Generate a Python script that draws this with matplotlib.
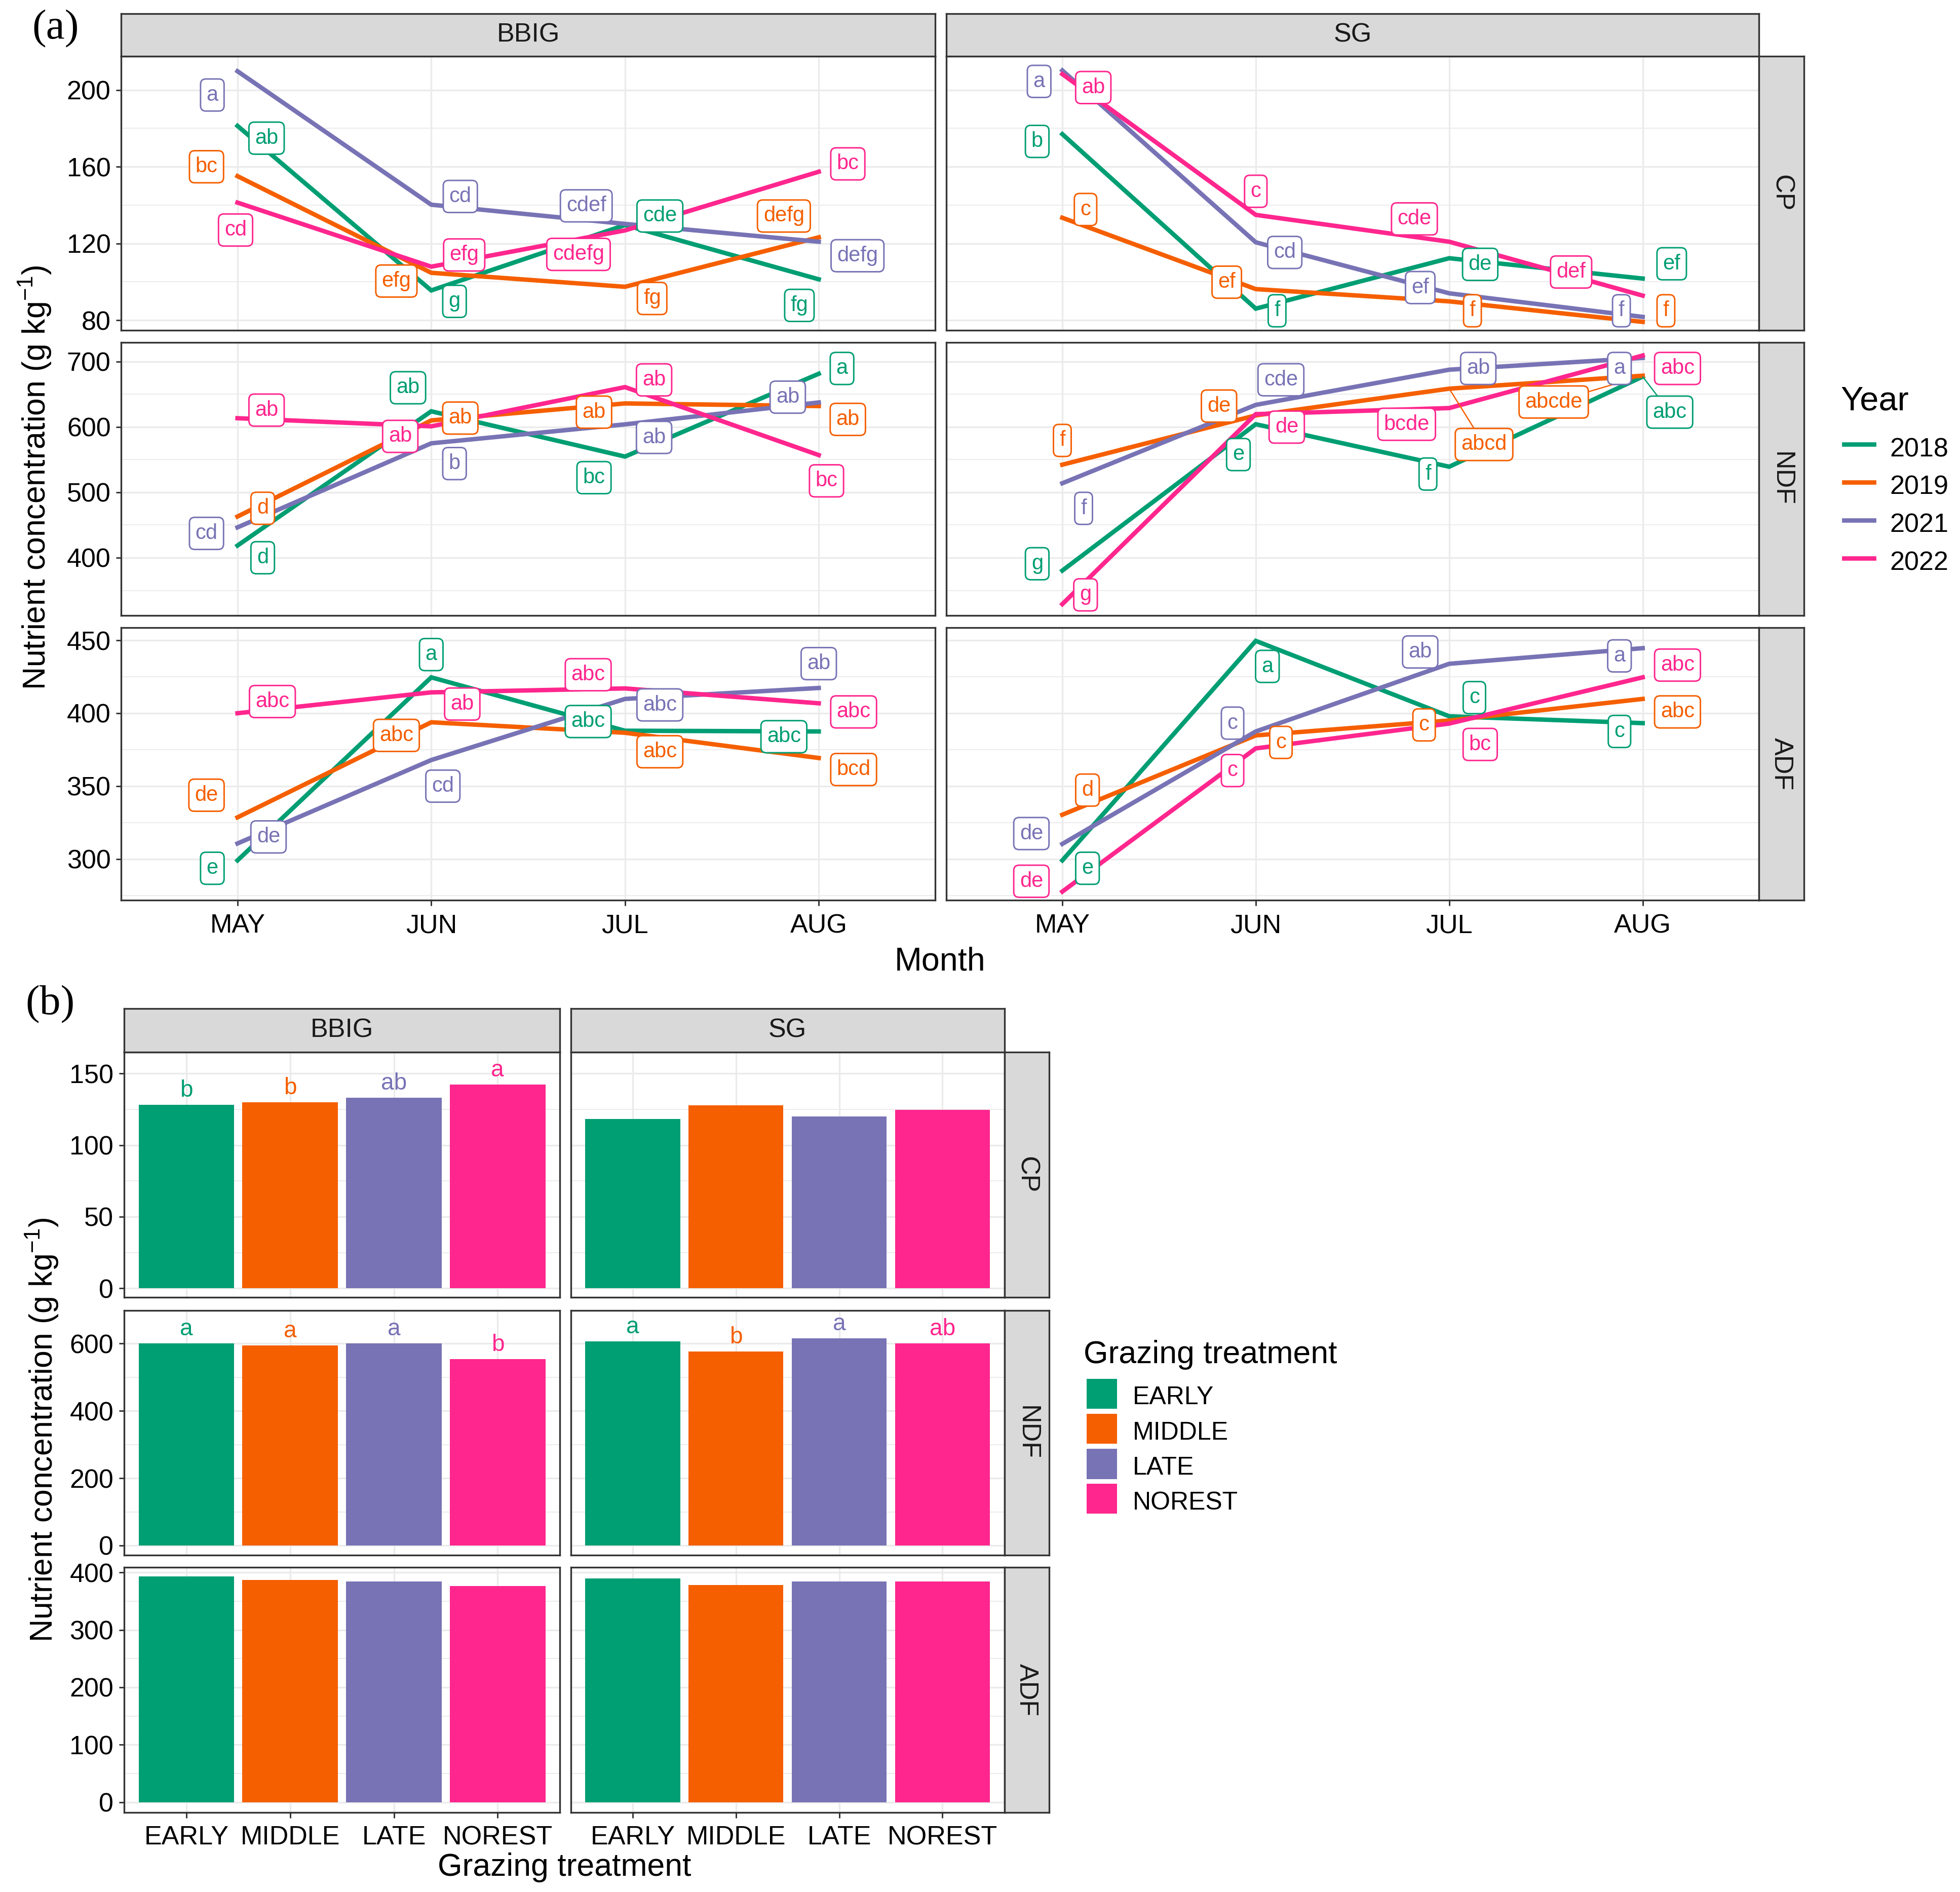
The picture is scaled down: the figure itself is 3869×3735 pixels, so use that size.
import matplotlib
matplotlib.use('Agg')
import matplotlib.pyplot as plt
from matplotlib.lines import Line2D
from matplotlib.patches import Rectangle
from matplotlib.ticker import MultipleLocator

plt.rcParams['font.family'] = ['Liberation Sans', 'DejaVu Sans']
plt.rcParams['mathtext.fontset'] = 'custom'
plt.rcParams['mathtext.rm'] = 'Liberation Sans'
plt.rcParams['mathtext.default'] = 'rm'

# ---------------- data ----------------
months = ['MAY', 'JUN', 'JUL', 'AUG']
years = ['2018', '2019', '2021', '2022']
sites = ['BBIG', 'SG']
nutrients = ['CP', 'NDF', 'ADF']
treatments = ['EARLY', 'MIDDLE', 'LATE', 'NOREST']

# (a) monthly means, rows = years (2018, 2019, 2021, 2022), cols = months
cp_bbig = [[181.3, 95.5, 129.6, 101.3],
           [155.1, 104.7, 97.4, 123.2],
           [209.8, 140.2, 130.2, 120.9],
           [141.3, 107.9, 126.8, 157.4]]
cp_sg = [[177.0, 86.0, 112.3, 101.7],
         [133.4, 96.2, 89.8, 79.1],
         [210.2, 120.6, 94.0, 81.7],
         [208.3, 134.9, 120.9, 92.8]]
ndf_bbig = [[418.6, 624.0, 554.7, 681.4],
            [463.0, 610.0, 636.0, 632.0],
            [446.4, 575.0, 604.0, 637.5],
            [613.4, 601.0, 661.0, 557.0]]
ndf_sg = [[380.3, 604.2, 539.2, 677.0],
          [542.3, 617.7, 658.6, 678.4],
          [513.9, 633.8, 687.6, 705.6],
          [329.0, 619.6, 628.9, 709.3]]
adf_bbig = [[299.1, 424.6, 388.0, 387.5],
            [328.6, 393.8, 386.6, 369.3],
            [310.7, 367.9, 409.8, 417.3],
            [400.0, 414.3, 417.0, 406.8]]
adf_sg = [[299.1, 449.6, 397.9, 393.2],
          [330.4, 384.8, 395.0, 409.8],
          [310.4, 387.5, 433.9, 444.6],
          [277.7, 375.9, 392.9, 424.6]]

cp_bbig_letters = [['ab', 'g', 'cde', 'fg'], ['bc', 'efg', 'fg', 'defg'],
                   ['a', 'cd', 'cdef', 'defg'], ['cd', 'efg', 'cdefg', 'bc']]
cp_sg_letters = [['b', 'f', 'de', 'ef'], ['c', 'ef', 'f', 'f'],
                 ['a', 'cd', 'ef', 'f'], ['ab', 'c', 'cde', 'def']]
ndf_bbig_letters = [['d', 'ab', 'bc', 'a'], ['d', 'ab', 'ab', 'ab'],
                    ['cd', 'b', 'ab', 'ab'], ['ab', 'ab', 'ab', 'bc']]
ndf_sg_letters = [['g', 'e', 'f', 'abc'], ['f', 'de', 'abcd', 'abcde'],
                  ['f', 'cde', 'ab', 'a'], ['g', 'de', 'bcde', 'abc']]
adf_bbig_letters = [['e', 'a', 'abc', 'abc'], ['de', 'abc', 'abc', 'bcd'],
                    ['de', 'cd', 'abc', 'ab'], ['abc', 'ab', 'abc', 'abc']]
adf_sg_letters = [['e', 'a', 'c', 'c'], ['d', 'c', 'c', 'abc'],
                  ['de', 'c', 'ab', 'a'], ['de', 'c', 'bc', 'abc']]

# (b) treatment means
cp_bars_bbig = [128.3, 129.9, 133.2, 142.2]
cp_bars_sg = [118.4, 127.9, 120.1, 124.6]
ndf_bars_bbig = [600.0, 594.7, 600.0, 554.0]
ndf_bars_sg = [607.0, 577.0, 615.9, 600.0]
adf_bars_bbig = [392.8, 386.6, 384.5, 376.3]
adf_bars_sg = [389.7, 378.4, 384.5, 384.5]

cp_bar_letters_bbig = ['b', 'b', 'ab', 'a']
cp_bar_letters_sg = ['', '', '', '']
ndf_bar_letters_bbig = ['a', 'a', 'a', 'b']
ndf_bar_letters_sg = ['a', 'b', 'a', 'ab']
adf_bar_letters_bbig = ['', '', '', '']
adf_bar_letters_sg = ['', '', '', '']

# ---------------- layout (label offsets from their points, dx in months, dy in data units) -------
cp_bbig_off = [[(0.15, -6.4), (0.12, -5.7), (0.18, 4.7), (-0.10, -13.6)],
               [(-0.16, 4.9), (-0.18, -4.3), (0.14, -6.1), (-0.18, 11.1)],
               [(-0.13, -12.4), (0.15, 4.3), (-0.20, 9.4), (0.20, -7.3)],
               [(-0.01, -14.3), (0.17, 6.1), (-0.24, -12.5), (0.15, 4.1)]]
cp_sg_off = [[(-0.13, -3.8), (0.11, -1.1), (0.16, -3.2), (0.15, 7.7)],
             [(0.12, 4.3), (-0.15, 3.6), (0.12, -4.9), (0.12, 5.8)],
             [(-0.12, -5.7), (0.15, -5.3), (-0.15, 3.0), (-0.11, 3.2)],
             [(0.16, -7.0), (0.00, 12.3), (-0.18, 11.9), (-0.37, 12.3)]]
ndf_bbig_off = [[(0.13, -18.6), (-0.12, 36.0), (-0.16, -32.2), (0.12, 8.1)],
                [(0.13, 12.6), (0.15, 3.6), (-0.16, -13.3), (0.15, -20.4)],
                [(-0.16, -9.2), (0.12, -31.0), (0.15, -20.0), (-0.16, 8.1)],
                [(0.15, 12.4), (-0.16, -15.4), (0.15, 11.0), (0.04, -39.4)]]
ndf_sg_off = [[(-0.13, 10.5), (-0.09, -46.4), (-0.11, -11.2), (0.14, -54.3)],
              [(0.00, 37.1), (-0.19, 14.3), (0.18, -85.4), (-0.46, -40.2)],
              [(0.11, -38.4), (0.13, 38.4), (0.15, 1.9), (-0.12, -16.1)],
              [(0.12, 14.2), (0.16, -19.8), (-0.22, -24.8), (0.18, -19.8)]]
adf_bbig_off = [[(-0.13, -5.4), (0.00, 15.6), (-0.19, 6.3), (-0.18, -3.6)],
                [(-0.16, 15.2), (-0.18, -9.0), (0.18, -13.0), (0.18, -7.9)],
                [(0.16, 4.5), (0.06, -17.9), (0.18, -4.1), (0.00, 16.7)],
                [(0.18, 8.0), (0.16, -8.0), (-0.19, 9.4), (0.18, -5.9)]]
adf_sg_off = [[(0.13, -5.4), (0.06, -17.5), (0.13, 12.8), (-0.12, -5.7)],
              [(0.13, 16.9), (0.13, -4.8), (-0.13, -3.0), (0.18, -8.9)],
              [(-0.16, 7.1), (-0.12, 5.7), (-0.15, 8.1), (-0.12, -5.3)],
              [(-0.16, 7.1), (-0.12, -15.2), (0.16, -14.3), (0.18, 8.4)]]
# labels with a visible repel segment: (nutrient, site, year index, month index)
segments = {('NDF', 'SG', 0, 3), ('NDF', 'SG', 1, 2), ('NDF', 'SG', 1, 3)}

line_values = {('CP', 'BBIG'): cp_bbig, ('CP', 'SG'): cp_sg,
               ('NDF', 'BBIG'): ndf_bbig, ('NDF', 'SG'): ndf_sg,
               ('ADF', 'BBIG'): adf_bbig, ('ADF', 'SG'): adf_sg}
line_letters = {('CP', 'BBIG'): cp_bbig_letters, ('CP', 'SG'): cp_sg_letters,
                ('NDF', 'BBIG'): ndf_bbig_letters, ('NDF', 'SG'): ndf_sg_letters,
                ('ADF', 'BBIG'): adf_bbig_letters, ('ADF', 'SG'): adf_sg_letters}
line_offsets = {('CP', 'BBIG'): cp_bbig_off, ('CP', 'SG'): cp_sg_off,
                ('NDF', 'BBIG'): ndf_bbig_off, ('NDF', 'SG'): ndf_sg_off,
                ('ADF', 'BBIG'): adf_bbig_off, ('ADF', 'SG'): adf_sg_off}
bar_values = {('CP', 'BBIG'): cp_bars_bbig, ('CP', 'SG'): cp_bars_sg,
              ('NDF', 'BBIG'): ndf_bars_bbig, ('NDF', 'SG'): ndf_bars_sg,
              ('ADF', 'BBIG'): adf_bars_bbig, ('ADF', 'SG'): adf_bars_sg}
bar_letters = {('CP', 'BBIG'): cp_bar_letters_bbig, ('CP', 'SG'): cp_bar_letters_sg,
               ('NDF', 'BBIG'): ndf_bar_letters_bbig, ('NDF', 'SG'): ndf_bar_letters_sg,
               ('ADF', 'BBIG'): adf_bar_letters_bbig, ('ADF', 'SG'): adf_bar_letters_sg}

colors = ['#009E73', '#F55F00', '#7873B5', '#FF268E']
GRID = '#EBEBEB'
BORDER = '#333333'
STRIP = '#D9D9D9'

W, H = 1568.0, 1513.0
fig = plt.figure(figsize=(3869 / 300, 3735 / 300), dpi=300)


def rect(x0, y0, x1, y1):
    return [x0 / W, 1 - y1 / H, (x1 - x0) / W, (y1 - y0) / H]


def style_axes(ax, show_x, show_y, major, minor):
    ax.set_axisbelow(True)
    ax.yaxis.set_major_locator(MultipleLocator(major))
    ax.yaxis.set_minor_locator(MultipleLocator(minor))
    ax.set_xticks(range(4))
    ax.grid(which='major', color=GRID, lw=0.8)
    ax.grid(which='minor', axis='y', color=GRID, lw=0.45)
    for s in ax.spines.values():
        s.set_color(BORDER)
        s.set_linewidth(0.8)
    ax.tick_params(which='minor', length=0)
    ax.tick_params(axis='y', which='major', length=2.4 if show_y else 0, width=0.7,
                   color=BORDER, pad=2.6, labelsize=12.5, labelcolor='black',
                   labelleft=show_y)
    ax.tick_params(axis='x', which='major', length=2.6 if show_x else 0, width=0.7,
                   color=BORDER, pad=3.6, labelsize=12.5, labelcolor='black',
                   labelbottom=show_x)


def top_strip(x0, x1, y0, y1, text):
    sax = fig.add_axes(rect(x0, y0, x1, y1))
    sax.set_facecolor(STRIP)
    sax.set_xticks([]); sax.set_yticks([])
    for s in sax.spines.values():
        s.set_color(BORDER); s.set_linewidth(0.8)
    sax.text(0.5, 0.5, text, ha='center', va='center', fontsize=12.5,
             color='#1A1A1A', transform=sax.transAxes)


def right_strip(x0, x1, y0, y1, text):
    sax = fig.add_axes(rect(x0, y0, x1, y1))
    sax.set_facecolor(STRIP)
    sax.set_xticks([]); sax.set_yticks([])
    for s in sax.spines.values():
        s.set_color(BORDER); s.set_linewidth(0.8)
    sax.text(0.5, 0.5, text, ha='center', va='center', fontsize=12.5,
             color='#1A1A1A', rotation=-90, transform=sax.transAxes)


# ---------------- (a) line panels ----------------
cols_a = [(97, 748), (757, 1407)]
rows_a = [(45, 264), (274, 492), (502, 720)]
ylims_a = [(74.8, 217.6), (312, 729), (271.7, 458.6)]
ysteps_a = [(40, 20), (100, 50), (50, 25)]

for r, nut in enumerate(nutrients):
    for c, site in enumerate(sites):
        ax = fig.add_axes(rect(cols_a[c][0], rows_a[r][0], cols_a[c][1], rows_a[r][1]))
        vals = line_values[(nut, site)]
        lets = line_letters[(nut, site)]
        offs = line_offsets[(nut, site)]
        for yi in range(len(years)):
            ax.plot(range(len(months)), vals[yi], color=colors[yi], lw=2.1,
                    solid_joinstyle='miter', zorder=3)
        for yi in range(len(years)):
            for m in range(len(months)):
                dx, dy = offs[yi][m]
                lx, ly = m + dx, vals[yi][m] + dy
                if (nut, site, yi, m) in segments:
                    ax.plot([m, lx], [vals[yi][m], ly], color=colors[yi], lw=0.6, zorder=4)
                ax.text(lx, ly, lets[yi][m], ha='center', va='center', fontsize=10,
                        color=colors[yi], zorder=5,
                        bbox=dict(boxstyle='round,pad=0.28,rounding_size=0.25',
                                  fc='white', ec=colors[yi], lw=0.7))
        ax.set_xlim(-0.6, 3.6)
        ax.set_ylim(*ylims_a[r])
        style_axes(ax, r == 2, c == 0, *ysteps_a[r])
        ax.set_xticklabels(months)
        if r == 0:
            top_strip(cols_a[c][0], cols_a[c][1], 11, 45, site)
    right_strip(1407, 1443, rows_a[r][0], rows_a[r][1], nut)

ytitle = r'Nutrient concentration (g kg$^{-1}$)'
fig.text(28 / W, 1 - 382 / H, ytitle, rotation=90, ha='center', va='center', fontsize=15)
fig.text(752 / W, 1 - 776 / H, 'Month', ha='center', va='baseline', fontsize=15.5)
fig.text(25.5 / W, 1 - 23 / H, '(a)', ha='left', va='center', fontsize=20,
         family=['Liberation Serif', 'DejaVu Serif'])

# legend (a)
fig.text(1472.6 / W, 1 - 328 / H, 'Year', ha='left', va='baseline', fontsize=16)
leg_y = [355.4, 385.6, 416.0, 446.4]
for i, yr in enumerate(years):
    fig.add_artist(Line2D([1475.3 / W, 1499 / W], [1 - leg_y[i] / H] * 2,
                          color=colors[i], lw=2.1, transform=fig.transFigure))
    fig.text(1512 / W, 1 - (leg_y[i] + 9.6) / H, yr, ha='left', va='baseline', fontsize=12.5)

# ---------------- (b) bar panels ----------------
cols_b = [(99.3, 447.9), (456.6, 803.5)]
rows_b = [(841.5, 1037.5), (1047.8, 1243.5), (1253.2, 1449.2)]
ylims_b = [(-6.3, 164.8), (-28.2, 698.8), (-17.5, 409.3)]
ysteps_b = [(50, 25), (200, 100), (100, 50)]

for r, nut in enumerate(nutrients):
    for c, site in enumerate(sites):
        ax = fig.add_axes(rect(cols_b[c][0], rows_b[r][0], cols_b[c][1], rows_b[r][1]))
        vals = bar_values[(nut, site)]
        lets = bar_letters[(nut, site)]
        ax.bar(range(len(treatments)), vals, width=0.92, color=colors, zorder=2)
        for i, t in enumerate(lets):
            if t:
                ax.annotate(t, (i, vals[i]), xytext=(0, 3.8), textcoords='offset points',
                            ha='center', va='baseline', fontsize=11, color=colors[i], zorder=4)
        ax.set_xlim(-0.6, 3.6)
        ax.set_ylim(*ylims_b[r])
        style_axes(ax, r == 2, c == 0, *ysteps_b[r])
        ax.set_xticklabels(treatments)
        if r == 0:
            top_strip(cols_b[c][0], cols_b[c][1], 806.5, 841.5, site)
    right_strip(803.5, 839.3, rows_b[r][0], rows_b[r][1], nut)

fig.text(33.5 / W, 1 - 1143.5 / H, ytitle, rotation=90, ha='center', va='center', fontsize=15)
fig.text(451.5 / W, 1 - 1500 / H, 'Grazing treatment', ha='center', va='baseline', fontsize=15)
fig.text(20.6 / W, 1 - 803 / H, '(b)', ha='left', va='center', fontsize=20,
         family=['Liberation Serif', 'DejaVu Serif'])

# legend (b)
fig.text(867 / W, 1 - 1090 / H, 'Grazing treatment', ha='left', va='baseline', fontsize=15)
key_top = [1102.6, 1130.6, 1158.7, 1186.6]
for i, t in enumerate(treatments):
    fig.add_artist(Rectangle((869.4 / W, 1 - (key_top[i] + 24) / H), 24.2 / W, 24 / H,
                             transform=fig.transFigure, facecolor=colors[i], edgecolor='none'))
    fig.text(906 / W, 1 - (key_top[i] + 20.5) / H, t, ha='left', va='baseline', fontsize=12)

fig.savefig('out.png', dpi=300, facecolor='white')
